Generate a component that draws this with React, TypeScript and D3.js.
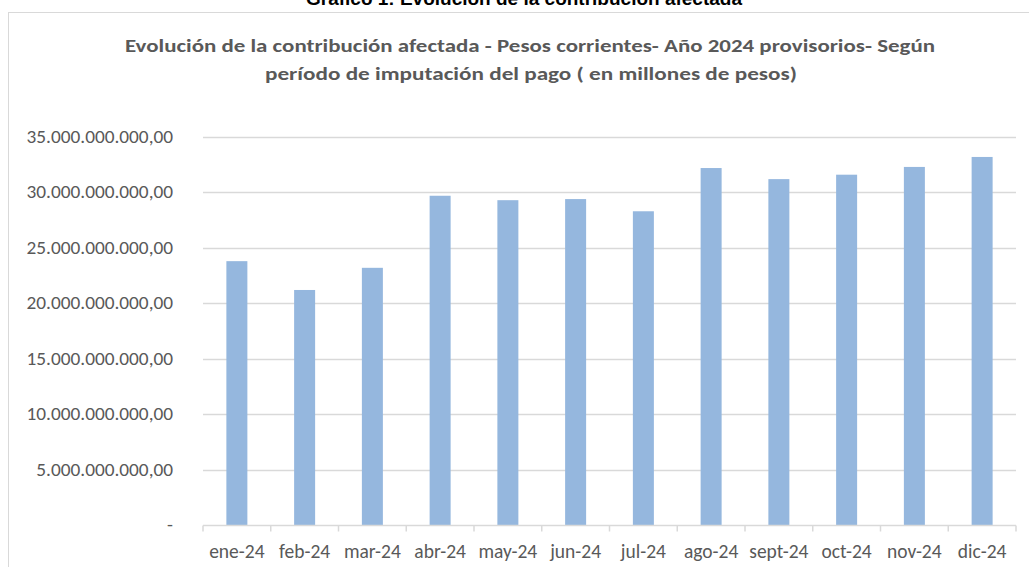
import React, { useEffect, useRef } from "react";
import * as d3 from "d3";

const months = [
  "ene-24", "feb-24", "mar-24", "abr-24", "may-24", "jun-24",
  "jul-24", "ago-24", "sept-24", "oct-24", "nov-24", "dic-24",
];
const contribution = [
  23.8e9, 21.2e9, 23.2e9, 29.7e9, 29.3e9, 29.4e9,
  28.3e9, 32.2e9, 31.2e9, 31.6e9, 32.3e9, 33.2e9,
];
const yTicks = [0, 5e9, 10e9, 15e9, 20e9, 25e9, 30e9, 35e9];

const heading = "Gráfico 1: Evolución de la contribución afectada";
const titleLines = [
  "Evolución de la contribución afectada - Pesos corrientes- Año 2024 provisorios- Según",
  "período de imputación del pago ( en millones de pesos)",
];

const fmt = (v: number) =>
  v === 0
    ? "-"
    : d3.format(",.2f")(v).replace(/,/g, "#").replace(/\./g, ",").replace(/#/g, ".");

export default function App() {
  const svgRef = useRef<SVGSVGElement | null>(null);

  useEffect(() => {
    if (!svgRef.current) return;
    const width = 1029;
    const height = 567;
    const svg = d3.select(svgRef.current);
    svg.selectAll("*").remove();

    const font = "Carlito, Calibri, 'Open Sans', sans-serif";
    const grey = "#595959";

    svg.append("rect").attr("width", width).attr("height", height).attr("fill", "#fff");

    // figure heading, cut off at the top edge as in the source image
    svg.append("text")
      .attr("x", 524).attr("y", 5)
      .attr("text-anchor", "middle")
      .attr("font-family", "'Liberation Sans', Arial, sans-serif")
      .attr("font-weight", "bold").attr("font-size", 19)
      .attr("fill", "#000")
      .text(heading);

    // chart frame
    svg.append("rect")
      .attr("x", 8.5).attr("y", 12.5)
      .attr("width", 1040).attr("height", 600)
      .attr("fill", "#fff").attr("stroke", "#d9d9d9");

    // title
    const tl = [[125, 935, 52], [265, 797, 80]];
    titleLines.forEach((line, i) => {
      const [x0, x1, y] = tl[i];
      svg.append("text")
        .attr("x", x0).attr("y", y)
        .attr("textLength", x1 - x0).attr("lengthAdjust", "spacingAndGlyphs")
        .attr("font-family", font).attr("font-weight", "bold").attr("font-size", 19)
        .attr("fill", grey)
        .text(line);
    });

    const margin = { left: 203, right: 13, top: 137, bottom: 42 };
    const x = d3.scaleBand<string>()
      .domain(months)
      .range([margin.left, width - margin.right])
      .paddingInner(0.69).paddingOuter(0.345);
    const y = d3.scaleLinear().domain([0, 35e9]).range([height - margin.bottom, margin.top]);

    // gridlines
    svg.append("g")
      .selectAll("line")
      .data(yTicks.filter((t) => t > 0))
      .join("line")
      .attr("x1", margin.left).attr("x2", width - margin.right)
      .attr("y1", (d) => Math.round(y(d)) + 0.5).attr("y2", (d) => Math.round(y(d)) + 0.5)
      .attr("stroke", "#d9d9d9").attr("stroke-width", 1.5);

    // y labels
    svg.append("g")
      .selectAll("text")
      .data(yTicks)
      .join("text")
      .attr("x", 173).attr("y", (d) => y(d) + 6)
      .attr("text-anchor", "end")
      .attr("font-family", font).attr("font-size", 19.3)
      .attr("fill", grey)
      .text((d) => fmt(d));

    // bars
    svg.append("g")
      .selectAll("rect")
      .data(contribution)
      .join("rect")
      .attr("x", (_, i) => x(months[i])!)
      .attr("y", (d) => y(d))
      .attr("width", x.bandwidth())
      .attr("height", (d) => y(0) - y(d))
      .attr("fill", "#95b7de");

    // x axis
    const y0 = Math.round(y(0)) + 0.5;
    const step = x.step();
    const axis = svg.append("g").attr("stroke", "#d9d9d9").attr("stroke-width", 1.5);
    axis.append("line")
      .attr("x1", margin.left).attr("x2", width - margin.right)
      .attr("y1", y0).attr("y2", y0);
    axis.selectAll("line.tick")
      .data(d3.range(months.length + 1))
      .join("line")
      .attr("class", "tick")
      .attr("x1", (i) => margin.left + i * step).attr("x2", (i) => margin.left + i * step)
      .attr("y1", y0).attr("y2", y0 + 6);

    svg.append("g")
      .selectAll("text")
      .data(months)
      .join("text")
      .attr("x", (d) => x(d)! + x.bandwidth() / 2)
      .attr("y", 558)
      .attr("text-anchor", "middle")
      .attr("font-family", font).attr("font-size", 19.5)
      .attr("fill", grey)
      .text((d) => d);
  }, []);

  return (
    <svg
      ref={svgRef}
      width={1029}
      height={567}
      style={{ position: "absolute", left: 0, top: 0, display: "block" }}
    />
  );
}
